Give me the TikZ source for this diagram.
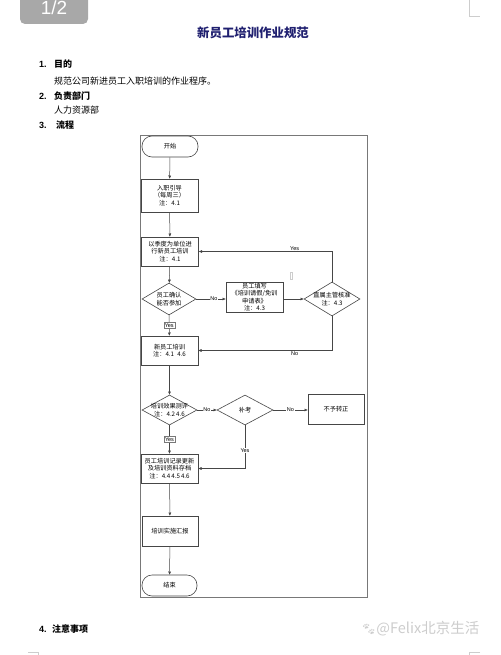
\documentclass[tikz,border=0pt]{standalone}
\usepackage{fontspec}
\setmainfont{Liberation Sans}
\newfontfamily\cjk{Noto Sans CJK SC}
\newfontfamily\emo{Noto Emoji}
\usetikzlibrary{shapes.geometric,arrows.meta}
\definecolor{navy}{RGB}{32,32,112}
\definecolor{linegray}{RGB}{70,70,70}
\definecolor{framegray}{RGB}{120,120,120}
\definecolor{badge}{RGB}{168,168,168}
\definecolor{faint}{RGB}{205,205,205}
\tikzset{
  fc/.style={font=\cjk\fontsize{6.2}{7.4}\selectfont, align=center, text=black},
  boxnode/.style={fc, draw=linegray, line width=0.6pt, rectangle, minimum width=57pt, minimum height=29pt, inner sep=1pt},
  termnode/.style={fc, draw=linegray, line width=0.6pt, rectangle, rounded corners=10pt, minimum width=56pt, minimum height=21pt, inner sep=1pt},
  decnode/.style={draw=linegray, line width=0.6pt, diamond, minimum width=55pt, minimum height=31pt, inner sep=0pt,
     label={[fc, inner sep=0pt]center:#1}},
  conn/.style={draw=linegray, line width=0.5pt, -{Triangle[length=3.2pt,width=2.6pt]}},
  lab/.style={font=\fontsize{5.5}{6}\selectfont, text=black, fill=white, inner sep=0.6pt},
  boxlab/.style={lab, draw=framegray, line width=0.3pt, inner sep=1pt},
  body/.style={font=\cjk\fontsize{9}{11}\selectfont, anchor=west, inner sep=0pt},
  head/.style={font=\cjk\bfseries\fontsize{9}{11}\selectfont, anchor=west, inner sep=0pt},
  num/.style={font=\bfseries\fontsize{9}{11}\selectfont, anchor=west, inner sep=0pt},
}
\begin{document}
\begin{tikzpicture}[x=1pt,y=-1pt]
\useasboundingbox (0,0) rectangle (500,655);
\fill[white] (0,0) rectangle (500,655);

% page badge and corner marks
\fill[badge, rounded corners=5pt] (20,-8) rectangle (88,24);
\node[text=white, font=\fontsize{19}{19}\selectfont, inner sep=0pt] (badgetxt) at (54,8) {1/2};
\draw[faint, line width=0.6pt] (469,0) -- (469,16) -- (480,16);
\draw[faint, line width=0.6pt] (28,652) -- (38,652) -- (38,656);
\draw[faint, line width=0.6pt] (480,652) -- (469,652) -- (469,656);

% title and sections
\node[font=\cjk\bfseries\fontsize{12.4}{14}\selectfont, text=navy, inner sep=0pt] (title) at (253,33) {新员工培训作业规范};
\node[num] (n1) at (39,64) {1.};
\node[head] (h1) at (54,64) {目的};
\node[body] (t1) at (54,81) {规范公司新进员工入职培训的作业程序。};
\node[num] (n2) at (39,96) {2.};
\node[head] (h2) at (54,96) {负责部门};
\node[body] (t2) at (54,110) {人力资源部};
\node[num] (n3) at (39,125) {3.};
\node[head] (h3) at (56,125) {流程};
\node[num] (n4) at (39,629) {4.};
\node[head] (h4) at (52,629) {注意事项};
\node[text=faint, anchor=west, inner sep=0pt, font=\cjk\fontsize{14.5}{16}\selectfont] (wm) at (361,629) {{\emo\fontsize{12}{13}\selectfont 🐾}@Felix北京生活};

% frame
\draw[framegray, line width=0.8pt] (140,135) rectangle (367,597);
\draw[faint, line width=0.8pt] (290,272) rectangle (292,279);

% flowchart nodes
\node[termnode] (start) at (170,146.5) {开始};
\node[boxnode, minimum height=33pt] (b1) at (169.5,195.5) {入职引导\\（每周三）\\注：4.1};
\node[boxnode] (b2) at (170,251.5) {以季度为单位进\\行新员工培训\\注：4.1};
\node[decnode={员工确认\\能否参加}, minimum width=54pt, minimum height=32pt] (d1) at (169,299) {};
\node[boxnode, minimum height=30pt, inner sep=0pt] (b3) at (254.5,297) {员工填写\\《培训请假/免训\\申请表》\\注：4.3};
\node[decnode={直属主管核准\\注：4.3}, minimum width=56pt, minimum height=34pt] (d2) at (332,299) {};
\node[boxnode] (b4) at (169.5,350.5) {新员工培训\\注：4.1\enspace 4.6};
\node[decnode={培训效果测评\\注：4.2\,4.6}, minimum height=30pt] (d3) at (169.5,410) {};
\node[decnode={补考}, minimum width=56pt, minimum height=30pt] (d4) at (245,410) {};
\node[boxnode, minimum width=56pt, minimum height=30pt] (b5) at (336,409) {不予转正};
\node[boxnode] (b6) at (169.5,468.5) {员工培训记录更新\\及培训资料存档\\注：4.4\,4.5\,4.6};
\node[boxnode, minimum width=56pt, minimum height=30pt] (b7) at (170,531) {培训实施汇报};
\node[termnode, minimum width=55pt] (end) at (169.5,585.5) {结束};

% connectors
\draw[conn] (start) -- (b1);
\draw[conn] (b1) -- (b2);
\draw[conn] (b2) -- (d1);
\draw[conn] (d1) -- node[boxlab] {Yes} (b4);
\draw[conn] (d1.east) -- node[lab, pos=0.6] {No} (b3.west |- d1.east);
\draw[conn] (b3.east |- d2.west) -- (d2.west);
\draw[conn] (d2.north) |- node[lab, pos=0.64, above=0.5pt, fill=none] {Yes} (b2.east);
\draw[conn] (d2.south) |- node[lab, pos=0.64, below=0.5pt, fill=none] {No} (b4.east);
\draw[conn] (b4) -- (d3);
\draw[conn] (d3) -- node[boxlab] {Yes} (b6);
\draw[conn] (d3.east) -- node[lab] {No} (d4.west);
\draw[conn] (d4.east) -- node[lab] {No} (b5.west |- d4.east);
\draw[conn] (d4.south) |- node[lab, pos=0.29] {Yes} (b6.east);
\draw[conn] (b6) -- (b7);
\draw[conn] (b7) -- (end);
\end{tikzpicture}
\end{document}
